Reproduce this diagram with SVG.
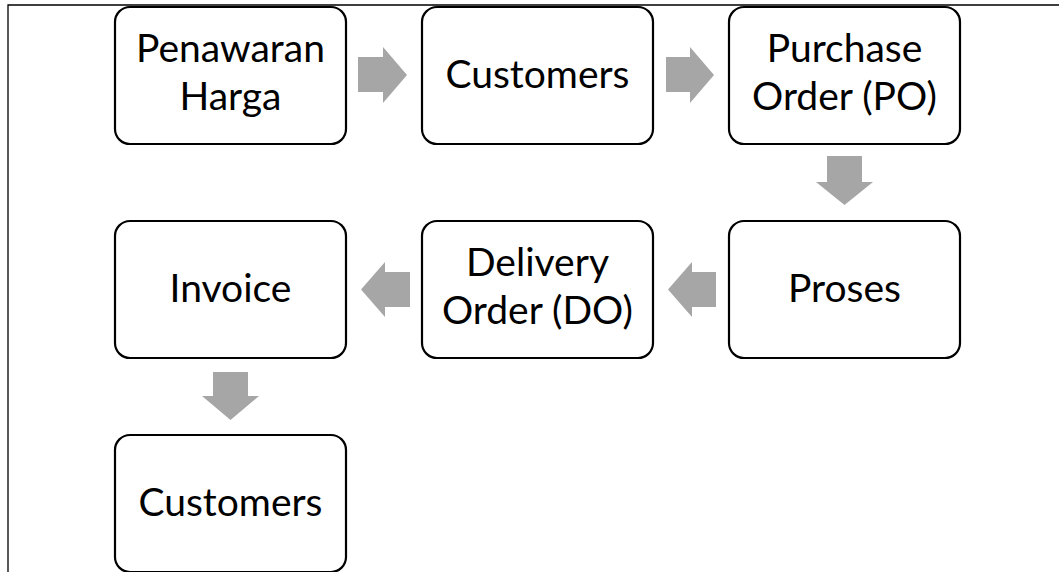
<svg xmlns="http://www.w3.org/2000/svg" width="1059" height="572" viewBox="0 0 1059 572">
<style>
.box{fill:#fff;stroke:#000;stroke-width:2.2}
.t{font-family:Lato,"Open Sans","Liberation Sans",sans-serif;font-size:39px;fill:#000;text-anchor:middle}
.arr{fill:#a6a6a6}
.frame{stroke:#000;stroke-width:1.3;fill:none}
</style>
<rect width="1059" height="572" fill="#fff"/>
<path class="frame" d="M8,572 V5 H1059"/>
<g id="connectors">
<polygon class="arr" points="358,57 383,57 383,47 407,75 383,103 383,92 358,92"/>
<polygon class="arr" points="666,57 690,57 690,47 714,75 690,103 690,92 666,92"/>
<polygon class="arr" points="827,156 862,156 862,182 873,182 844.5,205 816,182 827,182"/>
<polygon class="arr" points="716,272 692,272 692,262 668,289.5 692,317 692,307 716,307"/>
<polygon class="arr" points="410,272 385,272 385,262 361,289.5 385,317 385,307 410,307"/>
<polygon class="arr" points="213,372 248,372 248,396 259,396 230.5,420 202,396 213,396"/>
</g>
<g id="n1"><rect class="box" x="115" y="7" width="231" height="137" rx="15"/><text class="t" x="230.5" y="62">Penawaran</text><text class="t" x="230.5" y="110">Harga</text></g>
<g id="n2"><rect class="box" x="422" y="7" width="231" height="137" rx="15"/><text class="t" x="537.5" y="88">Customers</text></g>
<g id="n3"><rect class="box" x="729" y="7" width="231" height="137" rx="15"/><text class="t" x="844.5" y="62">Purchase</text><text class="t" x="844.5" y="110">Order (PO)</text></g>
<g id="n4"><rect class="box" x="729" y="221" width="231" height="137" rx="15"/><text class="t" x="844.5" y="302">Proses</text></g>
<g id="n5"><rect class="box" x="422" y="221" width="231" height="137" rx="15"/><text class="t" x="537.5" y="276">Delivery</text><text class="t" x="537.5" y="324">Order (DO)</text></g>
<g id="n6"><rect class="box" x="115" y="221" width="231" height="137" rx="15"/><text class="t" x="230.5" y="302">Invoice</text></g>
<g id="n7"><rect class="box" x="115" y="435" width="231" height="137" rx="15"/><text class="t" x="230.5" y="516">Customers</text></g>
</svg>
